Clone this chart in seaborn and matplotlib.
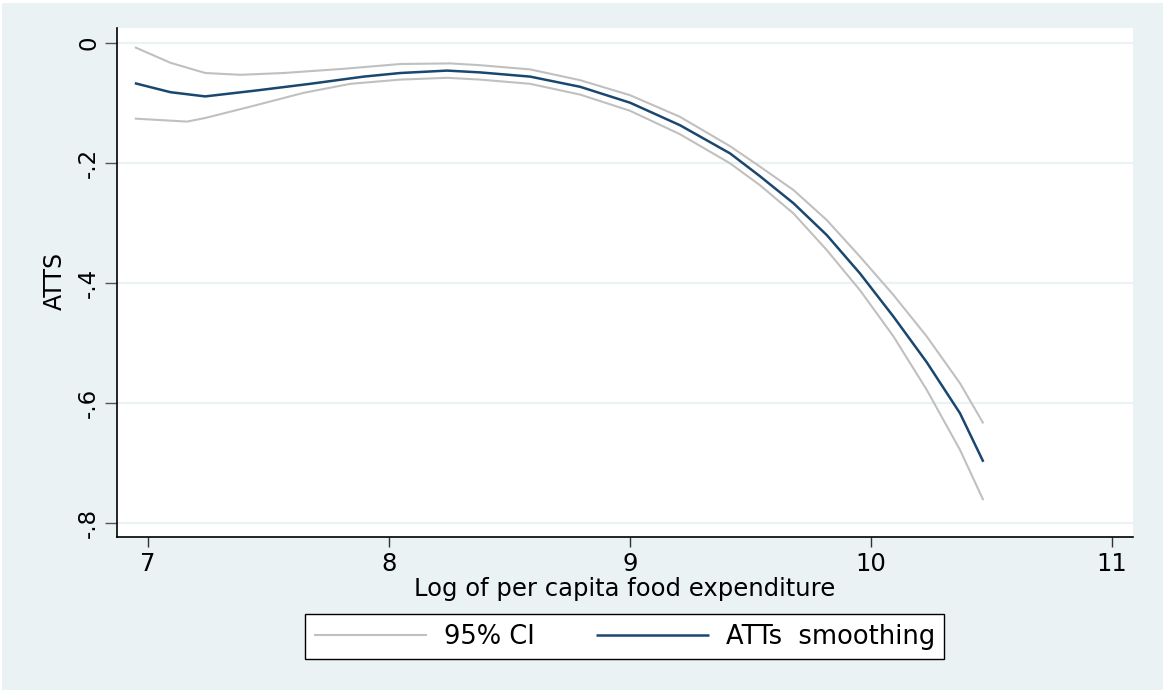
import matplotlib
matplotlib.use("Agg")
import matplotlib.pyplot as plt
from matplotlib.patches import Rectangle
import seaborn as sns

# ---- data ----
att_x = [6.945, 7.093, 7.237, 7.452, 7.673, 7.895, 8.047, 8.241, 8.378, 8.585, 8.793,
         9.000, 9.207, 9.415, 9.539, 9.678, 9.816, 9.954, 10.093, 10.231, 10.369, 10.466]
att_y = [-0.067, -0.082, -0.089, -0.079, -0.068, -0.056, -0.050, -0.046, -0.049, -0.056, -0.073,
         -0.0995, -0.137, -0.184, -0.222, -0.267, -0.320, -0.384, -0.456, -0.532, -0.617, -0.698]

ci_up_x = [6.945, 7.093, 7.237, 7.383, 7.563, 7.812, 8.047, 8.254, 8.378, 8.585, 8.793,
           9.000, 9.207, 9.415, 9.539, 9.678, 9.816, 9.954, 10.093, 10.231, 10.369, 10.466]
ci_up_y = [-0.007, -0.033, -0.050, -0.053, -0.050, -0.043, -0.035, -0.034, -0.037, -0.044, -0.062,
           -0.087, -0.123, -0.172, -0.206, -0.245, -0.295, -0.356, -0.420, -0.489, -0.567, -0.634]

ci_lo_x = [6.945, 7.162, 7.237, 7.425, 7.646, 7.840, 8.047, 8.241, 8.378, 8.585, 8.793,
           9.000, 9.207, 9.415, 9.539, 9.678, 9.816, 9.954, 10.093, 10.231, 10.369, 10.466]
ci_lo_y = [-0.126, -0.131, -0.125, -0.106, -0.083, -0.068, -0.061, -0.058, -0.061, -0.068, -0.086,
           -0.113, -0.152, -0.2005, -0.237, -0.284, -0.345, -0.412, -0.489, -0.578, -0.678, -0.762]

x_ticks = [7, 8, 9, 10, 11]
y_ticks = [0, -0.2, -0.4, -0.6, -0.8]
y_tick_labels = ["0", "-.2", "-.4", "-.6", "-.8"]
x_label = "Log of per capita food expenditure"
y_label = "ATTS"
ci_label = "95% CI"
att_label = "ATTs  smoothing"

# ---- style ----
sns.set_style("white")
plt.rcParams["font.family"] = ["DejaVu Sans"]
plt.rcParams["text.color"] = "black"
plt.rcParams["axes.labelcolor"] = "black"
plt.rcParams["xtick.color"] = "black"
plt.rcParams["ytick.color"] = "black"
plt.rcParams["lines.solid_capstyle"] = "butt"

BG = "#EAF2F3"
NAVY = "#1A476F"
GRAY = "#C0C0C0"

W, H = 1163, 691
fig = plt.figure(figsize=(W / 100, H / 100), dpi=100)
fig.patch.set_facecolor("white")
fig.patches.append(Rectangle((2 / W, 1 / H), 1 - 2 / W, (H - 4) / H,
                             transform=fig.transFigure, facecolor=BG,
                             edgecolor="none", zorder=-10))

ax = fig.add_axes([117 / W, (H - 537) / H, 1016 / W, 509 / H])
ax.set_facecolor("white")

sns.lineplot(x=ci_up_x, y=ci_up_y, ax=ax, color=GRAY, linewidth=1.5,
             sort=False, estimator=None, label=ci_label)
sns.lineplot(x=ci_lo_x, y=ci_lo_y, ax=ax, color=GRAY, linewidth=1.5,
             sort=False, estimator=None, label="_nolegend_")
sns.lineplot(x=att_x, y=att_y, ax=ax, color=NAVY, linewidth=1.8,
             sort=False, estimator=None, label=att_label)

ax.set_xlim(6.871, 11.087)
ax.set_ylim(-0.8233, 0.025)

ax.set_xticks(x_ticks)
ax.set_xticklabels([str(v) for v in x_ticks], fontsize=17.5)
ax.set_yticks(y_ticks)
ax.set_yticklabels(y_tick_labels, fontsize=16.5, rotation=90, va="center")

ax.tick_params(axis="x", length=7, width=1.0, color="#333333", pad=4, direction="out", bottom=True)
ax.tick_params(axis="y", length=9, width=1.0, color="#555555", pad=3, direction="out", left=True)

ax.grid(axis="y", color=BG, linewidth=1.6)
ax.grid(axis="x", visible=False)
ax.set_axisbelow(True)

for s in ["top", "right"]:
    ax.spines[s].set_visible(False)
for s in ["left", "bottom"]:
    ax.spines[s].set_color("black")
    ax.spines[s].set_linewidth(1.2)

ax.set_xlabel(x_label, fontsize=17.5)
ax.set_ylabel(y_label, fontsize=17)
ax.xaxis.set_label_coords(0.5, -0.078)
ax.yaxis.set_label_coords(-0.049, 0.503)

handles, labels = ax.get_legend_handles_labels()
leg = ax.legend(handles, labels, ncol=2, loc="center",
                bbox_to_anchor=((300 + 949) / 2 / W, 1 - 636.5 / H),
                bbox_transform=fig.transFigure,
                fontsize=18.5, frameon=True, fancybox=False,
                borderpad=0.36, handlelength=4.4, handletextpad=0.65,
                columnspacing=2.4, edgecolor="black", facecolor="white",
                framealpha=1.0)
leg.get_frame().set_linewidth(1.0)

fig.savefig("out.png", dpi=100, facecolor=fig.get_facecolor())
